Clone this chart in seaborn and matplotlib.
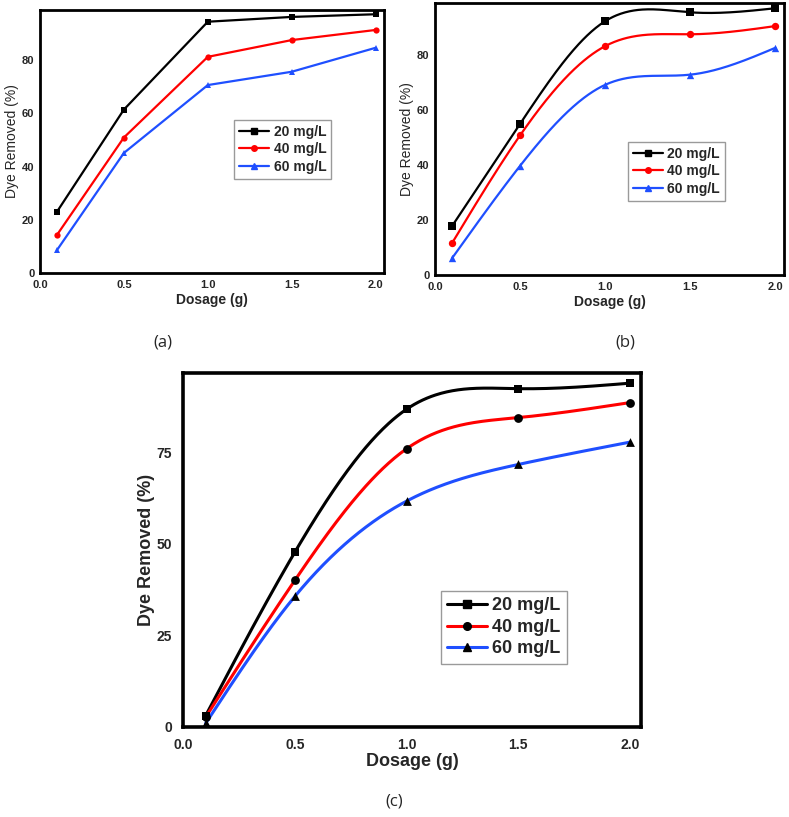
import numpy as np
import pandas as pd
import matplotlib
matplotlib.use("Agg")
import matplotlib.pyplot as plt
from matplotlib.lines import Line2D
import seaborn as sns

# ---------------- data ----------------
dosage = [0.1, 0.5, 1.0, 1.5, 2.0]
series = ["20 mg/L", "40 mg/L", "60 mg/L"]

a_20 = [22.9, 61.4, 94.4, 96.2, 97.2]
a_40 = [14.2, 50.9, 81.2, 87.5, 91.3]
a_60 = [8.5, 45.1, 70.6, 75.6, 84.6]

b_20 = [17.8, 55.1, 92.5, 95.7, 97.2]
b_40 = [11.6, 50.9, 83.4, 87.7, 90.7]
b_60 = [6.1, 39.8, 69.3, 73.0, 82.8]

c_20 = [3.0, 47.7, 86.7, 92.3, 93.8]
c_40 = [2.6, 40.0, 75.9, 84.4, 88.5]
c_60 = [0.9, 35.6, 61.6, 71.6, 77.7]

xtick_vals = [0.0, 0.5, 1.0, 1.5, 2.0]
xtick_labels = ["0.0", "0.5", "1.0", "1.5", "2.0"]
ytick_ab = [0, 20, 40, 60, 80]
ytick_c = [0, 25, 50, 75]

colors = ["#000000", "#ff0000", "#1f4fff"]
markers = ["s", "o", "^"]

sns.set_style("white")
plt.rcParams["font.family"] = ["Liberation Sans", "DejaVu Sans"]


def long_df(vals):
    rows = []
    for name, v in zip(series, vals):
        for x, y in zip(dosage, v):
            rows.append({"Dosage": x, "Removed": y, "Conc": name})
    return pd.DataFrame(rows)


def natural_spline(x, y, n=300):
    x = np.asarray(x, float)
    y = np.asarray(y, float)
    k = len(x)
    h = np.diff(x)
    A = np.zeros((k, k))
    r = np.zeros(k)
    A[0, 0] = 1
    A[-1, -1] = 1
    for i in range(1, k - 1):
        A[i, i - 1] = h[i - 1]
        A[i, i] = 2 * (h[i - 1] + h[i])
        A[i, i + 1] = h[i]
        r[i] = 6 * ((y[i + 1] - y[i]) / h[i] - (y[i] - y[i - 1]) / h[i - 1])
    M = np.linalg.solve(A, r)
    xs = np.linspace(x[0], x[-1], n)
    idx = np.clip(np.searchsorted(x, xs) - 1, 0, k - 2)
    x0, x1 = x[idx], x[idx + 1]
    hh = x1 - x0
    t1 = x1 - xs
    t0 = xs - x0
    ys = (M[idx] * t1 ** 3 / (6 * hh) + M[idx + 1] * t0 ** 3 / (6 * hh)
          + (y[idx] / hh - M[idx] * hh / 6) * t1
          + (y[idx + 1] / hh - M[idx + 1] * hh / 6) * t0)
    return xs, ys


def smooth_df(vals):
    rows = []
    for name, v in zip(series, vals):
        xs, ys = natural_spline(dosage, v)
        rows.append(pd.DataFrame({"Dosage": xs, "Removed": ys, "Conc": name}))
    return pd.concat(rows, ignore_index=True)


def style_axes(ax, ymax, yticks, tick_fs, label_fs, ylab_weight, spine_w,
               xpad, ypad, xlabpad, ylabpad):
    ax.set_xlim(0, 2.05)
    ax.set_ylim(0, ymax)
    ax.set_xticks(xtick_vals)
    ax.set_xticklabels(xtick_labels)
    ax.set_yticks(yticks)
    ax.set_yticklabels([str(t) for t in yticks])
    for lab in ax.get_xticklabels() + ax.get_yticklabels():
        lab.set_fontweight("bold")
        lab.set_fontsize(tick_fs)
    ax.tick_params(axis="x", length=0, pad=xpad)
    ax.tick_params(axis="y", length=0, pad=ypad)
    ax.set_xlabel("Dosage (g)", fontsize=label_fs, fontweight="bold", labelpad=xlabpad)
    ax.set_ylabel("Dye Removed (%)", fontsize=label_fs, fontweight=ylab_weight,
                  labelpad=ylabpad)
    for s in ax.spines.values():
        s.set_visible(True)
        s.set_linewidth(spine_w)
        s.set_color("black")
    ax.grid(False)


def add_legend(ax, fig, anchor_px, fs, lw, ms, marker_colors):
    handles = [Line2D([0], [0], color=c, lw=lw, marker=m, markersize=ms,
                      markerfacecolor=mc, markeredgecolor=mc)
               for c, m, mc in zip(colors, markers, marker_colors)]
    leg = ax.legend(handles, series, loc="upper left",
                    bbox_to_anchor=(anchor_px[0] / 789, 1 - anchor_px[1] / 817),
                    bbox_transform=fig.transFigure, borderaxespad=0,
                    frameon=True, fancybox=False, framealpha=1,
                    edgecolor="#9a9a9a", borderpad=0.35, handlelength=2.2,
                    handletextpad=0.3, labelspacing=0.25,
                    prop={"weight": "bold", "size": fs})
    leg.get_frame().set_linewidth(1.0)
    return leg


fig = plt.figure(figsize=(7.89, 8.17), dpi=100)

# ---------------- (a) straight lines ----------------
axa = fig.add_axes([40 / 789, 1 - 273 / 817, 344 / 789, 263 / 817])
dfa = long_df([a_20, a_40, a_60])
sns.lineplot(data=dfa, x="Dosage", y="Removed", hue="Conc", style="Conc",
             palette=colors, markers=markers, dashes=False, linewidth=1.6,
             markersize=4.5, markeredgewidth=0, ax=axa, legend=False)
style_axes(axa, 98.8, ytick_ab, 8, 10, "normal", 2.0, 5, 4, 2, 2)
add_legend(axa, fig, (234, 120), 10, 1.6, 4, colors)

# ---------------- (b) smooth lines ----------------
axb = fig.add_axes([435 / 789, 1 - 275 / 817, 349 / 789, 272 / 817])
vb = [b_20, b_40, b_60]
sns.lineplot(data=smooth_df(vb), x="Dosage", y="Removed", hue="Conc",
             palette=colors, linewidth=1.6, ax=axb, legend=False)
dfb = long_df(vb)
for name, c, m in zip(series, colors, markers):
    sub = dfb[dfb["Conc"] == name]
    sns.scatterplot(data=sub, x="Dosage", y="Removed", color=c, marker=m,
                    s=28, linewidth=0, ax=axb, legend=False, zorder=3)
style_axes(axb, 99.1, ytick_ab, 8, 10, "normal", 2.0, 5, 4, 2, 2)
add_legend(axb, fig, (627.7, 142), 10, 1.6, 4, colors)

# ---------------- (c) smooth lines, black markers ----------------
axc = fig.add_axes([183.3 / 789, 1 - 726.7 / 817, 457.7 / 789, 353.4 / 817])
vc = [c_20, c_40, c_60]
sns.lineplot(data=smooth_df(vc), x="Dosage", y="Removed", hue="Conc",
             palette=colors, linewidth=2.2, ax=axc, legend=False)
dfc = long_df(vc)
for name, m in zip(series, markers):
    sub = dfc[dfc["Conc"] == name]
    sns.scatterplot(data=sub, x="Dosage", y="Removed", color="black", marker=m,
                    s=40, linewidth=0, ax=axc, legend=False, zorder=3,
                    clip_on=False)
style_axes(axc, 96.5, ytick_c, 10, 13, "bold", 2.6, 8, 8, 1, 1)
add_legend(axc, fig, (441, 591), 13, 2.2, 5.5, ["black", "black", "black"])

# ---------------- captions ----------------
cap = dict(ha="center", va="center", fontsize=12, family=["Open Sans", "DejaVu Sans"])
fig.text(163 / 789, 1 - 342 / 817, "(a)", **cap)
fig.text(625 / 789, 1 - 342 / 817, "(b)", **cap)
fig.text(394 / 789, 1 - 802 / 817, "(c)", **cap)

fig.savefig("out.png", dpi=100)
